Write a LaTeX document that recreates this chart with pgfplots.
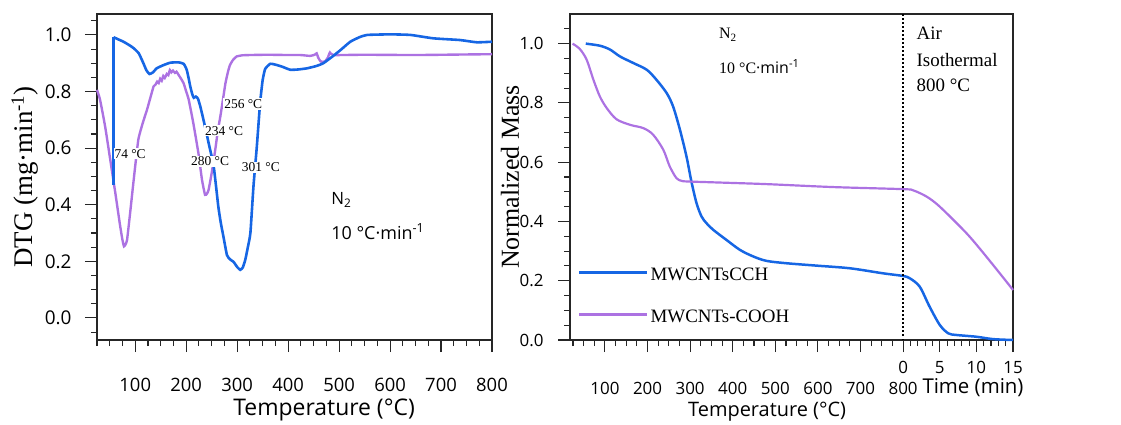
\documentclass[border=0pt]{standalone}
\usepackage{fontspec}
\setmainfont{Liberation Serif}
\newfontfamily\sans{Open Sans}
\usepackage{pgfplots}
\pgfplotsset{compat=1.18}
\definecolor{cblue}{RGB}{22,102,228}
\definecolor{cpurp}{RGB}{172,114,226}
\newcommand{\fs}[1]{\fontsize{#1}{#1}\selectfont}
\begin{document}
\begin{tikzpicture}
\useasboundingbox (0,0) rectangle (1121bp,425bp);
% ---------------- left: DTG ----------------
\begin{axis}[
  at={(97bp,85bp)}, anchor=south west,
  scale only axis, width=395bp, height=326bp,
  xmin=25, xmax=800, ymin=-0.078, ymax=1.074,
  clip=false,
  axis line style={line width=1.1pt, black!85},
  tick style={line width=1.1pt, black!85},
  tick align=outside, tick pos=left,
  major tick length=12bp, minor tick length=6bp,
  xtick={100,200,300,400,500,600,700,800},
  minor xtick={25,50,...,800},
  ytick={0,0.2,0.4,0.6,0.8,1.0},
  minor ytick={-0.05,0,0.05,0.1,0.15,0.2,0.25,0.3,0.35,0.4,0.45,0.5,0.55,0.6,0.65,0.7,0.75,0.8,0.85,0.9,0.95,1.0,1.05},
  /pgf/number format/assume math mode=true,
  yticklabel style={font=\sans\fs{19}, xshift=-10bp, /pgf/number format/.cd, fixed, fixed zerofill, precision=1},
  xticklabel style={font=\sans\fs{18.5}, yshift=-23bp},
  scaled y ticks=false,
]
\addplot[cpurp, line width=2.4pt, smooth, tension=0.3] coordinates {
(25,0.806) (31,0.771) (41,0.676) (51,0.559) (61,0.441) (70,0.330) (75,0.275) (78,0.253) (81,0.26) (84,0.276) (90,0.371) (97,0.488) (106,0.629) (115,0.69) (123,0.735) (130,0.78) (136,0.818) (140,0.825) (143,0.835) (146,0.83) (149,0.845) (152,0.838) (155,0.855) (158,0.848) (162,0.862) (165,0.858) (168,0.876) (171,0.868) (174,0.874) (178,0.866) (181,0.87) (185,0.859) (190,0.845) (195,0.829) (200,0.80) (205,0.771) (214,0.688) (224,0.582) (231,0.488) (237,0.435) (241,0.44) (244,0.453) (250,0.512) (257,0.594) (262,0.66) (267,0.712) (272,0.77) (277,0.829) (282,0.87) (286,0.894) (292,0.912) (299,0.924) (310,0.928) (325,0.929) (360,0.93) (400,0.929) (424,0.929) (443,0.926) (452,0.93) (456,0.935) (459,0.92) (464,0.906) (472,0.906) (478,0.92) (482,0.938) (489,0.929) (550,0.93) (650,0.929) (750,0.931) (800,0.932)
};
\addplot[cblue, line width=2.6pt] coordinates {(57.5,0.47) (57.5,0.992)};
\addplot[cblue, line width=2.6pt, smooth, tension=0.3] coordinates {
(57.5,0.992) (66,0.985) (77,0.976) (90,0.962) (97,0.953) (107,0.935) (116,0.900) (122,0.875) (128,0.862) (135,0.868) (142,0.882) (155,0.893) (169,0.902) (185,0.903) (195,0.898) (201,0.877) (205,0.845) (208,0.818) (212,0.790) (215,0.778) (219,0.782) (223,0.775) (228,0.745) (237,0.676) (245,0.61) (254,0.535) (263,0.394) (268,0.335) (273,0.288) (280,0.222) (286,0.207) (293,0.198) (300,0.180) (306,0.170) (311,0.178) (316,0.206) (321,0.25) (326,0.301) (332,0.465) (338.6,0.606) (345,0.759) (350,0.840) (355,0.880) (365,0.898) (375,0.895) (388,0.888) (404,0.877) (420,0.878) (437,0.882) (455,0.89) (469,0.900) (490,0.928) (505,0.95) (522,0.976) (540,0.992) (555,1.0) (600,1.002) (640,1.0) (685,0.988) (737,0.982) (770,0.974) (800,0.976)
};
\node[font=\fs{13.5}, fill=white, inner sep=1bp] at (axis cs:90,0.58) {74 °C};
\node[font=\fs{13.5}, fill=white, inner sep=1bp] at (axis cs:312,0.756) {256 °C};
\node[font=\fs{13.5}, fill=white, inner sep=1bp] at (axis cs:274.5,0.661) {234 °C};
\node[font=\fs{13.5}, fill=white, inner sep=1bp] at (axis cs:247,0.553) {280 °C};
\node[font=\fs{13.5}, fill=white, inner sep=1bp] at (axis cs:346.5,0.533) {301 °C};
\node[anchor=west, font=\sans\fs{17}] at (axis cs:478,0.418) {N\textsubscript{2}};
\node[anchor=west, font=\sans\fs{18}] at (axis cs:478,0.305) {10 °C·min\textsuperscript{-1}};
\node[font=\sans\fs{23}] at ([yshift=-70bp]axis description cs:0.575,0) {Temperature (°C)};
\node[font=\fs{27}, rotate=90] at ([xshift=-72bp]axis description cs:0,0.5) {DTG (mg·min\textsuperscript{-1})};
\end{axis}
% ---------------- right: TG ----------------
\begin{axis}[
  at={(570bp,85bp)}, anchor=south west,
  scale only axis, width=443bp, height=326bp,
  xmin=18, xmax=1058, ymin=0, ymax=1.1,
  clip=false,
  axis line style={line width=1.1pt, black!85},
  tick style={line width=1.1pt, black!85},
  tick align=outside, tick pos=left,
  major tick length=12bp, minor tick length=6bp,
  xtick={100,200,300,400,500,600,700,800},
  minor xtick={25,50,...,775,817.2,834.4,851.6,868.8,903.2,920.4,937.6,954.8,989.2,1006.4,1023.6,1040.8},
  extra x ticks={800,886,972,1058},
  extra x tick labels={0,5,10,15},
  extra x tick style={xticklabel style={yshift=21bp}},
  ytick={0,0.2,0.4,0.6,0.8,1.0},
  minor ytick={0,0.05,0.1,0.15,0.2,0.25,0.3,0.35,0.4,0.45,0.5,0.55,0.6,0.65,0.7,0.75,0.8,0.85,0.9,0.95,1.0,1.05},
  /pgf/number format/assume math mode=true,
  yticklabel style={font=\sans\fs{17}, xshift=-11bp, /pgf/number format/.cd, fixed, fixed zerofill, precision=1},
  xticklabel style={font=\sans\fs{17}, yshift=-27bp},
  scaled y ticks=false,
  legend style={at={(0.011,0.233)}, anchor=north west, draw=none, fill=none, font=\fs{19}, row sep=24bp},
  legend cell align=left,
  legend image code/.code={\draw[#1, line width=2.6pt] (0bp,3bp) -- (68bp,3bp);},
]
\addplot[cblue, line width=2.5pt, smooth, tension=0.5] coordinates {
(55,1.0) (88,0.993) (112,0.98) (135,0.957) (166,0.935) (198,0.912) (221,0.878) (245,0.833) (260,0.788) (276,0.710) (291.5,0.619) (303,0.535) (315,0.462) (326.7,0.417) (338.5,0.394) (354,0.372) (385,0.338) (417,0.304) (448,0.282) (479,0.267) (526,0.259) (596,0.251) (675,0.242) (753,0.225) (800,0.216) (816,0.208) (839,0.18) (862,0.113) (886,0.051) (906,0.0225) (925,0.017) (972,0.011) (1011,0.003) (1058,0)
};
\addlegendentry{MWCNTsCCH}
\addplot[cpurp, line width=2.2pt, smooth, tension=0.5] coordinates {
(24,1.0) (41,0.982) (57,0.946) (73,0.878) (88,0.822) (104,0.783) (127,0.745) (159,0.726) (190,0.715) (213,0.693) (237,0.642) (252,0.586) (268,0.546) (280,0.537) (292,0.535) (354,0.532) (479,0.526) (636,0.516) (800,0.509) (823.5,0.505) (855,0.484) (886,0.45) (949,0.36) (995,0.282) (1058,0.169)
};
\addlegendentry{MWCNTs-COOH}
\addplot[black, line width=1.3pt, dash pattern=on 1.5bp off 2.5bp, forget plot] coordinates {(800,0) (800,1.1)};
\node[anchor=west, font=\fs{16}] at (axis cs:360,1.03) {N\textsubscript{2}};
\node[anchor=west, font=\fs{16}] at (axis cs:360,0.923) {10 °C{\sans·min\textsuperscript{-1}}};
\node[anchor=west, font=\fs{19}] at (axis cs:823.5,1.036) {Air};
\node[anchor=west, font=\fs{19}] at (axis cs:823.5,0.946) {Isothermal};
\node[anchor=west, font=\fs{19}] at (axis cs:823.5,0.858) {800 °C};
\node[font=\fs{26}, rotate=90] at ([xshift=-60bp]axis description cs:0,0.5) {Normalized Mass};
\node[font=\sans\fs{20}] at ([yshift=-72bp]axis description cs:0.445,0) {Temperature (°C)};
\node[font=\sans\fs{20.5}] at ([yshift=-48bp,xshift=3bp]axis description cs:0.903,0) {Time (min)};
\end{axis}
\end{tikzpicture}
\end{document}
